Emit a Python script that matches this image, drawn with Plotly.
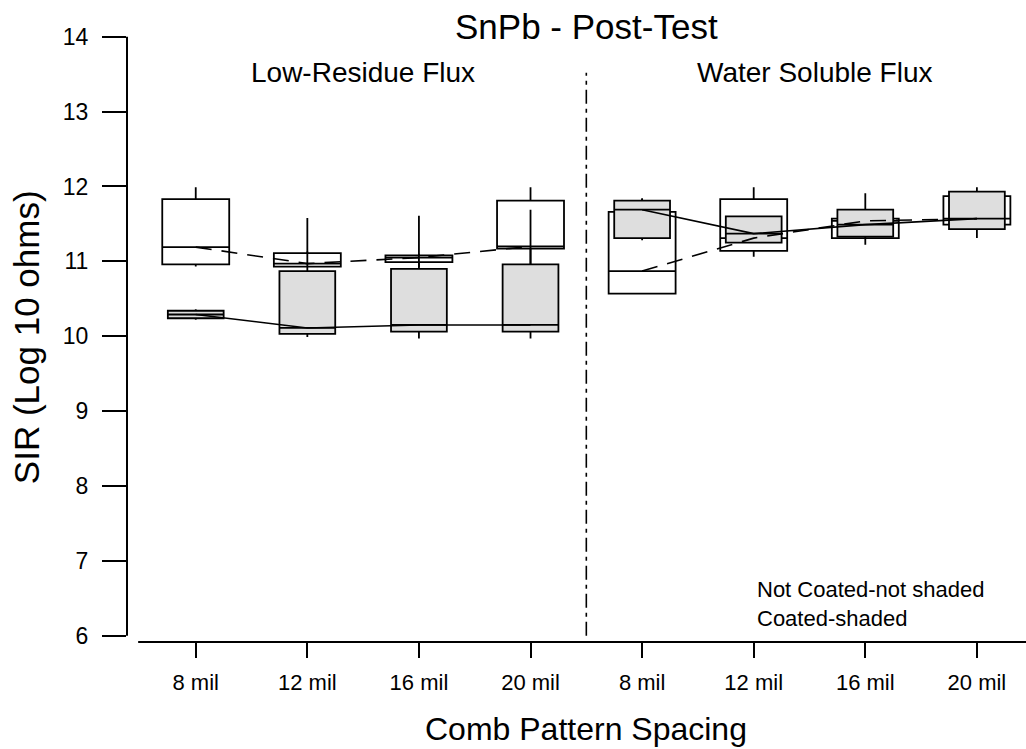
import plotly.graph_objects as go

# ---------------- data ----------------
categories = ["8 mil", "12 mil", "16 mil", "20 mil", "8 mil", "12 mil", "16 mil", "20 mil"]
positions = [0, 1, 2, 3, 4, 5, 6, 7]

# Not coated (not shaded)
nc_low = [10.93, 10.92, 10.92, 10.96, 10.57, 11.06, 11.31, 11.49]
nc_q1 = [10.96, 10.93, 10.99, 11.17, 10.57, 11.14, 11.31, 11.49]
nc_med = [11.19, 10.97, 11.05, 11.20, 10.87, 11.31, 11.54, 11.57]
nc_q3 = [11.83, 11.11, 11.08, 11.81, 11.66, 11.83, 11.57, 11.87]
nc_high = [11.99, 11.13, 11.10, 11.99, 11.84, 11.99, 11.57, 11.87]

# Coated (shaded)
c_low = [10.22, 9.99, 9.97, 9.97, 11.28, 11.25, 11.22, 11.31]
c_q1 = [10.24, 10.03, 10.06, 10.06, 11.31, 11.25, 11.33, 11.43]
c_med = [10.29, 10.11, 10.15, 10.15, 11.69, 11.37, 11.49, 11.57]
c_q3 = [10.34, 10.87, 10.90, 10.96, 11.81, 11.60, 11.69, 11.93]
c_high = [10.36, 11.58, 11.61, 11.69, 11.84, 11.60, 11.91, 11.99]

groups = ["Low-Residue Flux", "Water Soluble Flux"]
title = "SnPb - Post-Test"
y_title = "SIR (Log 10 ohms)"
x_title = "Comb Pattern Spacing"
legend_lines = ["Not Coated-not shaded", "Coated-shaded"]
y_ticks = [6, 7, 8, 9, 10, 11, 12, 13, 14]

FONT = "Liberation Sans, Arial, sans-serif"

fig = go.Figure()

fig.add_trace(go.Box(
    x=positions, q1=nc_q1, median=nc_med, q3=nc_q3,
    lowerfence=nc_low, upperfence=nc_high,
    width=0.6, whiskerwidth=0, boxpoints=False,
    fillcolor="white", line=dict(color="black", width=1.8),
    showlegend=False, hoverinfo="skip"))

fig.add_trace(go.Box(
    x=positions, q1=c_q1, median=c_med, q3=c_q3,
    lowerfence=c_low, upperfence=c_high,
    width=0.5, whiskerwidth=0, boxpoints=False,
    fillcolor="#dedede", line=dict(color="black", width=1.8),
    showlegend=False, hoverinfo="skip"))

def split(vals):
    xs = positions[:4] + [None] + positions[4:]
    ys = vals[:4] + [None] + vals[4:]
    return xs, ys

xs, ys = split(nc_med)
fig.add_trace(go.Scatter(x=xs, y=ys, mode="lines", connectgaps=False,
                         line=dict(color="black", width=1.6, dash="16px,10px"),
                         showlegend=False, hoverinfo="skip"))
xs, ys = split(c_med)
fig.add_trace(go.Scatter(x=xs, y=ys, mode="lines", connectgaps=False,
                         line=dict(color="black", width=1.6),
                         showlegend=False, hoverinfo="skip"))

# axis lines (offset style)
fig.add_shape(type="line", xref="paper", yref="y", x0=0, x1=0, y0=6, y1=14,
              line=dict(color="black", width=2))
fig.add_shape(type="line", xref="x", yref="paper", x0=-0.516, x1=7.6, y0=0, y1=0,
              line=dict(color="black", width=2))
# group divider
fig.add_shape(type="line", xref="x", yref="y", x0=3.5, x1=3.5, y0=6.0, y1=13.52,
              line=dict(color="black", width=1.6, dash="14px,5px,4px,5px"))

fig.add_annotation(text=title, xref="x", yref="paper", x=3.5, y=1.0054,
                   xanchor="center", yanchor="middle",
                   font=dict(family=FONT, size=35, color="black"), showarrow=False)
fig.add_annotation(text=groups[0], xref="x", yref="paper", x=1.5, y=0.931,
                   xanchor="center", yanchor="middle",
                   font=dict(family=FONT, size=28, color="black"), showarrow=False)
fig.add_annotation(text=groups[1], xref="x", yref="paper", x=5.55, y=0.931,
                   xanchor="center", yanchor="middle",
                   font=dict(family=FONT, size=28, color="black"), showarrow=False)
fig.add_annotation(text="<br>".join(legend_lines), xref="x", yref="paper", x=5.01, y=0.0616,
                   xanchor="left", yanchor="middle", align="left",
                   font=dict(family=FONT, size=22, color="black"), showarrow=False)
fig.add_annotation(text=x_title, xref="x", yref="paper", x=3.5, y=-0.142,
                   xanchor="center", yanchor="middle",
                   font=dict(family=FONT, size=32, color="black"), showarrow=False)
fig.add_annotation(text=y_title, xref="paper", yref="y", x=-0.111, y=9.99,
                   xanchor="center", yanchor="middle", textangle=-90,
                   font=dict(family=FONT, size=35, color="black"), showarrow=False)

fig.update_layout(
    width=1026, height=749,
    margin=dict(l=127, r=0, t=30, b=107, autoexpand=False),
    paper_bgcolor="white", plot_bgcolor="white",
    boxmode="overlay", showlegend=False,
    font=dict(family=FONT, color="black"),
)
fig.update_xaxes(range=[-0.616, 7.44], tickvals=positions, ticktext=categories,
                 showgrid=False, zeroline=False, showline=False,
                 ticks="outside", ticklen=15, tickwidth=1.8, tickcolor="black",
                 ticklabelstandoff=6,
                 tickfont=dict(family=FONT, size=22, color="black"))
fig.update_yaxes(range=[5.916, 14.0895], tickvals=y_ticks,
                 showgrid=False, zeroline=False, showline=False,
                 ticks="outside", ticklen=24, tickwidth=1.8, tickcolor="black",
                 ticklabelstandoff=9,
                 tickfont=dict(family=FONT, size=23, color="black"))

fig.write_html("out.html")
